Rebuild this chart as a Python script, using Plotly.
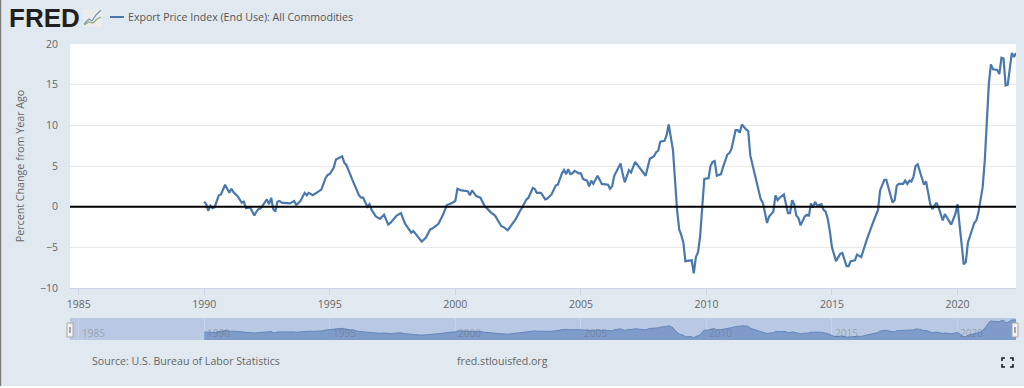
import plotly.graph_objects as go

SERIES_NAME = "Export Price Index (End Use): All Commodities"
Y_TITLE = "Percent Change from Year Ago"
SOURCE_TEXT = "Source: U.S. Bureau of Labor Statistics"
SITE_TEXT = "fred.stlouisfed.org"
LOGO_TEXT = "FRED"

# months elapsed since 1990-01
month_index = [
    0,1,2,3,4,5,7,8,10,12,13,14,16,17,18,19,20,22,24,25,26,27,28,30,31,32,33,34,35,36,37,41,43,44,46,48,49,50,52,54,56,58,59,60,
    62,63,64,66,67,68,71,74,75,76,78,79,80,82,84,86,88,89,92,94,96,99,100,104,106,108,109,111,112,114,116,118,120,121,123,126,
    127,128,130,132,134,137,139,142,143,145,147,149,151,152,154,155,157,158,159,161,163,164,166,168,169,171,172,173,174,175,176,177,179,180,
    181,183,184,185,186,188,190,193,194,195,196,199,200,201,203,204,206,208,211,213,215,216,217,218,220,221,222,224,225,226,227,228,229,230,233,234,235,236,237,238,239,
    241,242,243,244,245,247,248,250,251,252,254,255,256,257,259,260,261,263,266,267,269,270,272,273,274,275,277,279,280,281,282,283,284,285,287,288,289,290,291,292,293,295,296,297,298,299,
    300,302,304,305,307,308,309,311,312,314,317,320,322,323,325,326,328,329,330,331,332,334,335,336,337,338,339,340,341,344,345,347,348,350,351,353,354,357,359,
    360,361,363,364,365,368,369,370,372,373,374,375,376,377,379,380,381,382,383,384,386,387,388,
]
percent_change = [
    0.6,0.3,-0.5,0.1,-0.2,-0.1,1.4,1.5,2.7,1.7,2.2,1.8,1.3,0.9,0.5,0.6,-0.2,-0.1,-1.1,-0.6,-0.3,-0.2,0.2,0.9,0.3,1.1,-0.3,-0.6,0.6,0.7,0.5,0.4,0.7,0.2,0.7,1.7,1.4,1.7,1.4,1.7,2.1,3.5,3.9,4.0,
    4.8,5.8,5.9,6.2,5.4,5.1,3.2,1.4,1.1,1.1,0.0,0.3,-0.4,-1.2,-1.5,-1.0,-2.2,-2.0,-1.1,-0.8,-2.1,-3.2,-3.0,-4.3,-3.8,-2.8,-2.7,-2.3,-2.1,-1.1,0.2,0.4,0.7,2.2,2.0,1.9,
    1.4,2.0,1.3,1.1,0.1,-0.7,-1.1,-2.4,-2.5,-2.9,-2.2,-1.5,-0.5,-0.1,0.9,1.1,2.3,2.2,1.7,1.7,0.9,1.0,1.5,2.6,2.7,4.1,4.5,4.0,4.6,4.0,4.1,4.4,4.1,4.1,
    3.4,3.2,2.5,3.2,2.8,3.8,2.8,2.7,2.2,2.5,3.8,5.3,4.0,3.0,4.5,4.2,5.5,4.8,3.8,5.9,6.2,6.7,6.9,8.0,8.1,8.8,10.1,7.0,2.8,-0.5,-2.8,-3.5,-4.5,-6.7,-6.6,-8.2,-6.2,-5.6,-3.7,0.4,3.4,
    3.5,5.0,5.5,5.6,3.8,4.0,4.9,6.4,6.6,7.1,9.4,9.4,9.1,10.1,9.5,9.3,6.3,4.0,0.9,0.5,-2.0,-1.2,-0.6,1.4,0.8,1.1,1.5,-0.8,-0.8,0.8,0.3,-1.1,-1.4,-2.3,-1.2,-1.0,-1.1,0.4,-0.1,0.6,0.1,0.3,-0.4,-0.6,-1.5,-3.0,
    -5.0,-6.7,-5.8,-5.7,-7.3,-7.3,-6.7,-6.6,-5.9,-6.2,-3.8,-1.7,-0.4,2.0,3.3,3.3,1.4,0.5,0.8,2.6,2.8,2.8,3.2,2.8,3.2,3.1,3.7,5.0,5.2,2.7,3.1,0.3,-0.3,0.5,-0.1,-1.7,-0.9,-2.2,-0.9,
    0.3,-2.3,-7.1,-6.8,-4.4,-2.0,-1.7,-0.7,2.4,5.7,10.2,15.1,17.5,16.9,16.8,16.3,18.3,18.2,14.9,15.0,18.9,18.4,18.9,
]
y_ticks = [-10, -5, 0, 5, 10, 15, 20]
nav_years = [1985, 1990, 1995, 2000, 2005, 2010, 2015, 2020]

dates = [f"{1990 + m // 12}-{m % 12 + 1:02d}-01" for m in month_index]

W, H = 1024, 388
BG = "#e1e9f0"
TXT = "#666666"
LINE = "#4a78ae"
FONT = "Open Sans"
X_RANGE = ["1984-08-28", "2022-05-01"]
NAV_FLOOR = -11.7
NAV_TOP = 21.9

def px(x): return x / W
def py(y): return 1 - y / H

fig = go.Figure()
fig.add_trace(go.Scatter(x=dates, y=percent_change, mode="lines", name=SERIES_NAME,
                         line=dict(color=LINE, width=2.2), showlegend=False,
                         xaxis="x", yaxis="y", hoverinfo="x+y"))
fig.add_trace(go.Scatter(x=[dates[0], dates[-1]], y=[NAV_FLOOR, NAV_FLOOR], mode="lines",
                         line=dict(width=0, color="rgba(0,0,0,0)"), showlegend=False,
                         xaxis="x2", yaxis="y2", hoverinfo="skip"))
fig.add_trace(go.Scatter(x=dates, y=percent_change, mode="lines", fill="tonexty",
                         fillcolor="#7f9bc9", line=dict(color="#6188bd", width=1),
                         showlegend=False, xaxis="x2", yaxis="y2", hoverinfo="skip"))

def rect(x0, y0, x1, y1, fill, line=None, lw=0, layer="above"):
    return dict(type="rect", xref="paper", yref="paper", x0=px(x0), x1=px(x1), y0=py(y0), y1=py(y1),
                fillcolor=fill, line=dict(color=line or fill, width=lw), layer=layer)

def pline(points, color, width):
    d = "M" + " L".join(f"{px(a):.5f},{py(b):.5f}" for a, b in points)
    return dict(type="path", xref="paper", yref="paper", path=d, line=dict(color=color, width=width), layer="above")

shapes = [
    # zero line
    dict(type="line", xref="x domain", yref="y", x0=0, x1=1, y0=0, y1=0, line=dict(color="#000000", width=2), layer="above"),
    # navigator band
    dict(type="rect", xref="x2 domain", yref="y2 domain", x0=0, x1=1, y0=0, y1=1,
         fillcolor="#b9c9e3", line=dict(width=0), layer="below"),
    # page edges
    rect(0, 0, 1.2, 388, "#7a7a7a"),
    rect(0, 386, 1024, 388, "#ffffff"),
    # legend swatch
    dict(type="line", xref="paper", yref="paper", x0=px(110), x1=px(124), y0=py(17), y1=py(17),
         line=dict(color=LINE, width=2), layer="above"),
    # logo icon
    rect(83, 9, 102, 27, "#ececec"),
    pline([(84, 24), (89, 19), (92, 21), (96, 15), (101, 10)], "#6f93bd", 1.2),
    pline([(84, 25), (89, 22), (93, 23), (97, 19), (101, 17)], "#8fae6e", 1.2),
    # navigator handles
    rect(67, 323, 73, 337, "#f2f2f2", "#a8a8a8", 1),
    rect(69, 327, 71, 333, "#a8a8a8"),
    rect(1012, 323, 1018, 337, "#f2f2f2", "#a8a8a8", 1),
    rect(1014, 327, 1016, 333, "#a8a8a8"),
    # fullscreen icon
    pline([(1002, 361), (1002, 358), (1005, 358)], "#1d1d1d", 1.6),
    pline([(1010, 358), (1013, 358), (1013, 361)], "#1d1d1d", 1.6),
    pline([(1002, 364), (1002, 367), (1005, 367)], "#1d1d1d", 1.6),
    pline([(1010, 367), (1013, 367), (1013, 364)], "#1d1d1d", 1.6),
]

def note(text, x, y, size, color=TXT, family=FONT, anchor="left"):
    return dict(text=text, xref="paper", yref="paper", x=px(x), y=py(y), xanchor=anchor, yanchor="middle",
                showarrow=False, font=dict(family=family, size=size, color=color),
                borderpad=0, borderwidth=0)

annotations = [
    note(f"<b>{LOGO_TEXT}</b>", 9, 18, 26, "#231f20", "Liberation Sans"),
    note(SERIES_NAME, 128, 17, 10.6, "#555555"),
    note(SOURCE_TEXT, 92, 361, 10.6),
    note(SITE_TEXT, 457, 361, 10.6),
]
for yr in nav_years:
    annotations.append(dict(text=str(yr), xref="x2", yref="paper", x=f"{yr}-01-01", y=py(333),
                            xanchor="left", yanchor="middle", xshift=1, showarrow=False,
                            font=dict(family=FONT, size=10, color="rgba(102,102,102,0.42)")))

fig.update_layout(
    width=W, height=H, autosize=False,
    margin=dict(l=0, r=0, t=0, b=0, pad=0),
    paper_bgcolor=BG, plot_bgcolor="#ffffff",
    font=dict(family=FONT, size=10.5, color=TXT),
    showlegend=False, shapes=shapes, annotations=annotations,
    xaxis=dict(domain=[px(70), px(1016)], range=X_RANGE, type="date", anchor="y",
               dtick="M60", tick0="1985-01-01", tickformat="%Y", showgrid=False,
               ticks="outside", ticklen=6, tickcolor="#ccd6eb", tickwidth=1,
               showline=True, linecolor="#ccd6eb", linewidth=1,
               tickfont=dict(family=FONT, size=10.5, color=TXT), automargin=False),
    yaxis=dict(domain=[py(288), py(44)], range=[-10, 20], tickvals=y_ticks, anchor="x",
               showgrid=True, gridcolor="#e9e9e9", gridwidth=1, zeroline=False, ticks="", ticklen=0,
               ticklabelstandoff=11,
               tickfont=dict(family=FONT, size=10.5, color=TXT), automargin=False,
               title=dict(text=Y_TITLE, font=dict(family=FONT, size=10.7, color=TXT), standoff=13)),
    xaxis2=dict(domain=[px(70), px(1016)], range=X_RANGE, type="date", anchor="y2",
                dtick="M60", tick0="1985-01-01", showgrid=True, gridcolor="#c6d3e8", gridwidth=1,
                showticklabels=False, ticks="", showline=False, zeroline=False, automargin=False),
    yaxis2=dict(domain=[py(340), py(318)], range=[NAV_FLOOR, NAV_TOP], anchor="x2", showgrid=False,
                showticklabels=False, ticks="", showline=False, zeroline=False, automargin=False),
)

fig.write_html("out.html", config={"displayModeBar": False},
               post_script="document.documentElement.style.overflow='hidden';document.body.style.margin='0';document.body.style.overflow='hidden';")
